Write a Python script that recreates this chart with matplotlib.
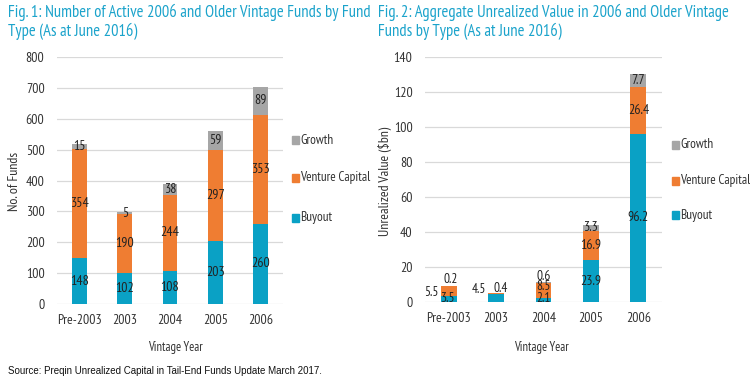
import matplotlib
matplotlib.use("Agg")
import matplotlib.pyplot as plt

plt.rcParams['font.family'] = ['PT Sans Narrow', 'DejaVu Sans']

# ---------------- data ----------------
categories = ["Pre-2003", "2003", "2004", "2005", "2006"]
series_names = ["Buyout", "Venture Capital", "Growth"]

funds_buyout = [148, 102, 108, 203, 260]
funds_vc = [354, 190, 244, 297, 353]
funds_growth = [15, 5, 38, 59, 89]

value_buyout = [3.5, 4.5, 2.1, 23.9, 96.2]
value_vc = [5.5, 0.4, 8.5, 16.9, 26.4]
value_growth = [0.2, 0.0, 0.6, 3.3, 7.7]

title1 = "Fig. 1: Number of Active 2006 and Older Vintage Funds by Fund\nType (As at June 2016)"
title2 = "Fig. 2: Aggregate Unrealized Value in 2006 and Older Vintage\nFunds by Type (As at June 2016)"
xlabel = "Vintage Year"
source_text = "Source: Preqin Unrealized Capital in Tail-End Funds Update March 2017."

# ---------------- style ----------------
colors = ["#0aa1c5", "#ef7d32", "#a6a6a6"]
title_color = "#1ba3cb"
grid_color = "#d9d9d9"
W, H = 750, 379

fig = plt.figure(figsize=(W / 100, H / 100), dpi=100)


def px_axes(left, top, right, bottom):
    return fig.add_axes([left / W, 1 - bottom / H, (right - left) / W, (bottom - top) / H])


def draw(ax, series, ymax, ystep, ylabel, fmt, label_overrides, legend_x, legend_ys,
         ylabel_x, xlabel_x):
    x = list(range(len(categories)))
    bottoms = [0] * len(categories)
    for vals, col in zip(series, colors):
        ax.bar(x, vals, bottom=bottoms, width=0.33, color=col, zorder=3)
        bottoms = [b + v for b, v in zip(bottoms, vals)]
    # value labels
    bottoms = [0] * len(categories)
    for si, vals in enumerate(series):
        for i, v in enumerate(vals):
            if v > 0:
                xx, yy = i, bottoms[i] + v / 2
                fs = 10
                if (si, i) in label_overrides:
                    dx, yy = label_overrides[(si, i)]
                    xx = i + dx
                    fs = 9.5
                ax.text(xx, yy, fmt(v), ha="center", va="center",
                        fontsize=fs, color="#222222", zorder=4)
        bottoms = [b + v for b, v in zip(bottoms, vals)]
    ax.set_xlim(-0.5, len(categories) - 0.5)
    ax.set_ylim(0, ymax)
    ax.set_yticks(range(0, ymax + 1, ystep))
    ax.set_xticks(x)
    ax.set_xticklabels(categories)
    ax.grid(axis="y", color=grid_color, linewidth=0.9, zorder=0)
    for s in ax.spines.values():
        s.set_visible(False)
    ax.tick_params(length=0, labelsize=10, colors="#333333")
    ax.tick_params(axis="y", pad=9)
    ax.tick_params(axis="x", pad=7)
    fig.text(ylabel_x / W, 1 - 181 / H, ylabel,
             rotation=90, fontsize=10, color="#333333", ha="center", va="center")
    fig.text(xlabel_x / W, 1 - 348 / H, xlabel, fontsize=9, color="#333333",
             ha="center", va="center")
    # legend (top to bottom: Growth, Venture Capital, Buyout)
    for name, col, ly in zip(series_names, colors, legend_ys):
        fig.patches.append(plt.Rectangle((legend_x / W, 1 - (ly + 4) / H), 7 / W, 8 / H,
                                         transform=fig.transFigure, color=col, figure=fig))
        fig.text((legend_x + 8) / W, 1 - ly / H, name, fontsize=9.5, color="#333333",
                 va="center", ha="left")


ax1 = px_axes(57, 57, 283, 304)
draw(ax1, [funds_buyout, funds_vc, funds_growth], 800, 100, "No. of Funds",
     lambda v: f"{v:d}", {}, 292, [218, 178, 140], 15, 175)

ax2 = px_axes(425, 57, 662, 302)
overrides2 = {
    (1, 0): (-0.37, 5.7),
    (2, 0): (0.05, 12.6),
    (0, 0): (0.0, 2.0),
    (0, 1): (-0.37, 6.9),
    (1, 1): (0.1, 8.0),
    (2, 2): (0.0, 14.8),
    (1, 2): (0.0, 8.6),
    (0, 2): (0.0, 2.0),
}
draw(ax2, [value_buyout, value_vc, value_growth], 140, 20, "Unrealized Value ($bn)",
     lambda v: f"{v:.1f}", overrides2, 672, [215, 181, 145], 385, 541)

fig.text(8 / W, 1 - 4 / H, title1, fontsize=11.9, color=title_color, va="top", ha="left",
         linespacing=1.15)
fig.text(378 / W, 1 - 4 / H, title2, fontsize=11.9, color=title_color, va="top", ha="left",
         linespacing=1.15)
fig.text(8 / W, 1 - 371 / H, source_text, fontsize=7, family="Liberation Sans",
         color="#111111", va="center", ha="left")

fig.savefig("out.png", dpi=100)
